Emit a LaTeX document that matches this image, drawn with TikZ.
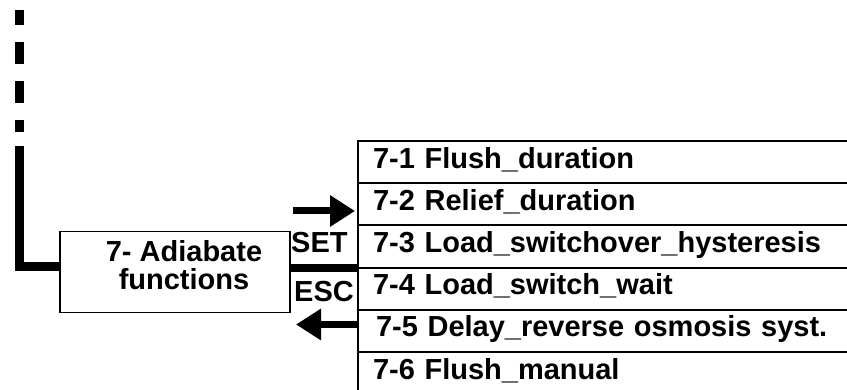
\documentclass[tikz,border=0pt]{standalone}
\usepackage{fontspec}
\setmainfont{Liberation Sans}
\usetikzlibrary{arrows.meta}
\tikzset{
  txt/.style={font=\bfseries\fontsize{29}{28}\selectfont, inner sep=0pt},
  rowbox/.style={draw, line width=2pt, anchor=north west, minimum width=520pt,
    minimum height=42.2pt, inner xsep=14pt, inner ysep=0pt, text height=20pt, text depth=8pt,
    text width=490pt, align=left, font=\bfseries\fontsize{29}{28}\selectfont},
  thick line/.style={line width=9pt},
  keyarrow/.style={line width=7pt, -{Triangle[length=25pt,width=30pt]}},
}
\begin{document}
\begin{tikzpicture}[x=1pt,y=-1pt]
\useasboundingbox (0,0) rectangle (847,390);
% dashed incoming line
\coordinate (d1) at (19.5,10);
\coordinate (d2) at (19.5,132);
\draw[line width=9pt, dash pattern=on 22pt off 17pt, dash phase=7pt] (d1) -- (d2);
% main box
\node[draw, line width=1.5pt, minimum width=230pt, minimum height=81pt, inner sep=0pt, anchor=north west] (box) at (59,231) {};
\node[txt, align=center, anchor=center] (boxtxt) at (184,265) {7- Adiabate\\functions};
\coordinate (s1) at (19.5,146);
\draw[thick line] (s1) |- (box.west |- 0,266.5);
% rows
\node[rowbox] (r1) at (357,140.0) {7-1 Flush\_duration};
\node[rowbox] (r2) at (357,182.2) {7-2 Relief\_duration};
\node[rowbox] (r3) at (357,224.4) {7-3 Load\_switchover\_hysteresis};
\node[rowbox] (r4) at (357,266.6) {7-4 Load\_switch\_wait};
\node[rowbox] (r5) at (357,308.8) {\hspace*{3pt}7-5 Delay\_reverse osmosis syst.};
\node[rowbox] (r6) at (357,351.0) {7-6 Flush\_manual};
% connector box -> list
\coordinate (j) at (357,268);
\draw[line width=8pt] (box.east |- j) -- (j);
% SET / ESC
\node[txt, anchor=base west] (set) at (291,253) {SET};
\node[txt, anchor=base west] (esc) at (294,302) {ESC};
\coordinate (a1) at (293,211);
\coordinate (a2) at (355,211);
\draw[keyarrow] (a1) -- (a2);
\coordinate (b1) at (357,324.5);
\coordinate (b2) at (296,324.5);
\draw[keyarrow] (b1) -- (b2);
\end{tikzpicture}
\end{document}
